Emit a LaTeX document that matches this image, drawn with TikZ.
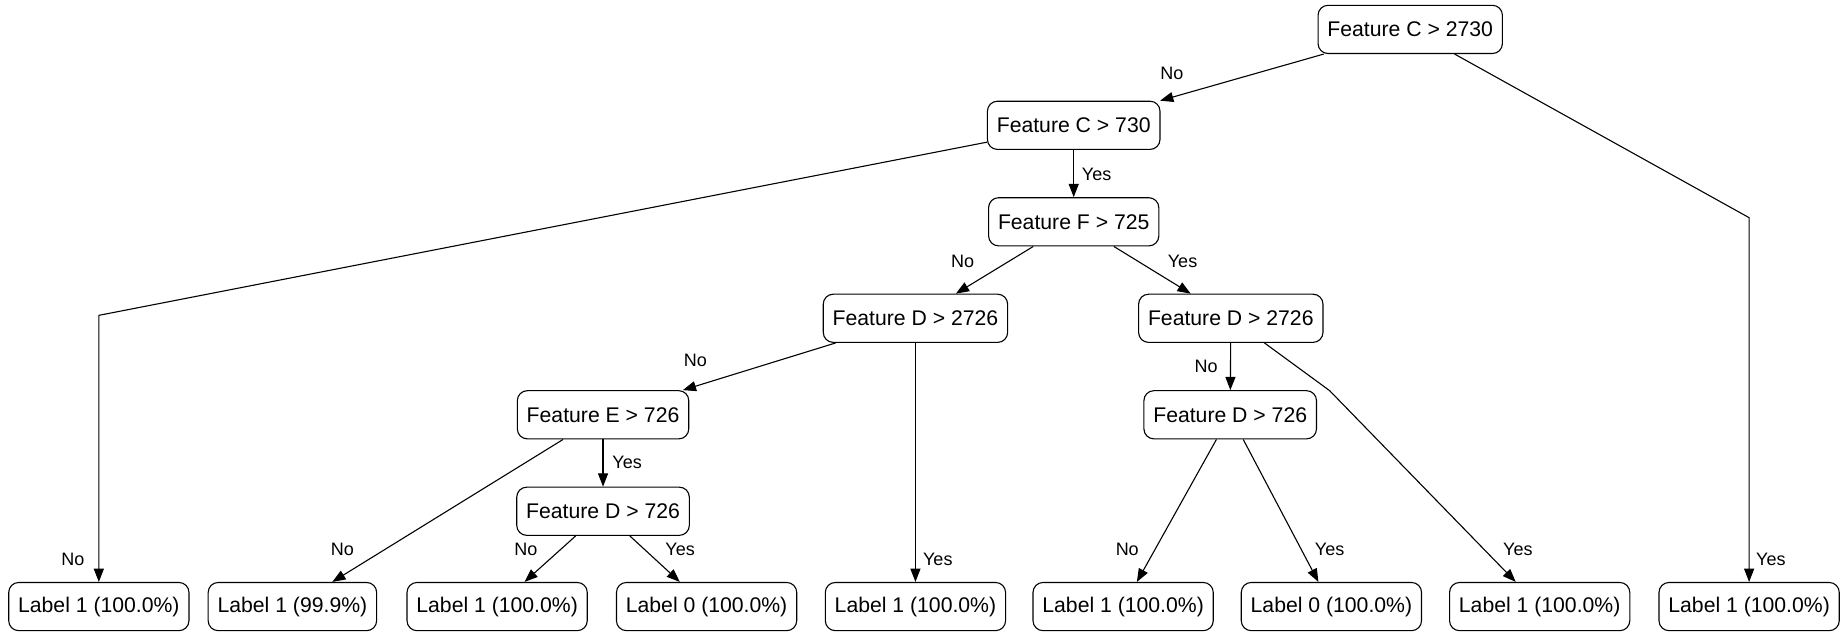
\documentclass[tikz,border=0pt]{standalone}
\usepackage{fontspec}
\setmainfont{Liberation Sans}
\usetikzlibrary{arrows.meta}
\begin{document}
\begin{tikzpicture}[x=0.58835pt,y=-0.58835pt,
  tnode/.style={draw,rounded corners=5pt,line width=0.55pt,minimum height=24.1pt,inner xsep=4.7pt,inner ysep=0pt,font=\fontsize{10.6pt}{12pt}\selectfont},
  elabel/.style={font=\fontsize{9pt}{11pt}\selectfont,inner sep=0pt},
  edge/.style={line width=0.55pt,-{Triangle[length=6.6pt,width=5pt]}}]
\useasboundingbox (0,0) rectangle (1568,540);
% decision nodes
\node[tnode] (root) at (1198.5,25) {Feature C > 2730};
\node[tnode] (c730) at (912.5,106.5) {Feature C > 730};
\node[tnode] (f725) at (912.5,188.5) {Feature F > 725};
\node[tnode] (dl2726) at (778,270.5) {Feature D > 2726};
\node[tnode] (dr2726) at (1046,270.5) {Feature D > 2726};
\node[tnode] (e726) at (512.5,352.5) {Feature E > 726};
\node[tnode] (dr726) at (1045.5,352.5) {Feature D > 726};
\node[tnode] (dl726) at (512.5,434.5) {Feature D > 726};
% leaves
\node[tnode] (l1) at (84,515.5) {Label 1 (100.0\%)};
\node[tnode] (l2) at (248.5,515.5) {Label 1 (99.9\%)};
\node[tnode] (l3) at (422.5,515.5) {Label 1 (100.0\%)};
\node[tnode] (l4) at (600.5,515.5) {Label 0 (100.0\%)};
\node[tnode] (l5) at (778,515.5) {Label 1 (100.0\%)};
\node[tnode] (l6) at (954.5,515.5) {Label 1 (100.0\%)};
\node[tnode] (l7) at (1131.5,515.5) {Label 0 (100.0\%)};
\node[tnode] (l8) at (1308.5,515.5) {Label 1 (100.0\%)};
\node[tnode] (l9) at (1486.5,515.5) {Label 1 (100.0\%)};
% bend points
\coordinate (b9) at (1486.5,185);
\coordinate (b1) at (84,268);
\coordinate (b8) at (1130,332);
% edges
\draw[edge] (root) -- (c730);
\draw[edge] (root) -- (b9) -- (l9);
\draw[edge] (c730) -- (b1) -- (l1);
\draw[edge] (c730) -- (f725);
\draw[edge] (f725) -- (dl2726);
\draw[edge] (f725) -- (dr2726);
\draw[edge] (dl2726) -- (e726);
\draw[edge] (dl2726) -- (l5);
\draw[edge] (dr2726) -- (dr726);
\draw[edge] (dr2726) -- (b8) -- (l8);
\draw[edge] (e726) -- (l2);
\draw[edge] (e726) -- (dl726);
\draw[edge] (dl726) -- (l3);
\draw[edge] (dl726) -- (l4);
\draw[edge] (dr726) -- (l6);
\draw[edge] (dr726) -- (l7);
% edge labels
\node[elabel] (t1) at (996,62) {No};
\node[elabel] (t2) at (1505,475) {Yes};
\node[elabel] (t3) at (62,475) {No};
\node[elabel] (t4) at (932,148) {Yes};
\node[elabel] (t5) at (818,222) {No};
\node[elabel] (t6) at (1005,222) {Yes};
\node[elabel] (t7) at (591,306) {No};
\node[elabel] (t8) at (797,475) {Yes};
\node[elabel] (t9) at (1025,311) {No};
\node[elabel] (t10) at (1290,467) {Yes};
\node[elabel] (t11) at (291,467) {No};
\node[elabel] (t12) at (533,393) {Yes};
\node[elabel] (t13) at (447,467) {No};
\node[elabel] (t14) at (578,467) {Yes};
\node[elabel] (t15) at (958,467) {No};
\node[elabel] (t16) at (1130,467) {Yes};
\end{tikzpicture}
\end{document}
